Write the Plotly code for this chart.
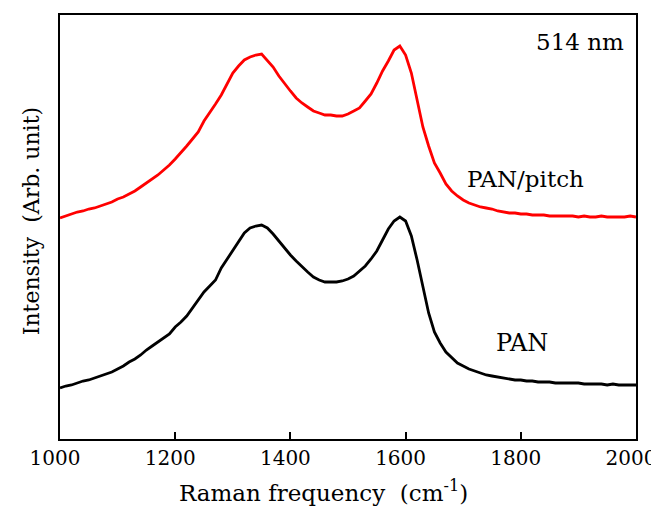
import plotly.graph_objects as go

# Raman spectra, 514 nm excitation (intensity in arbitrary units)
RAMAN_SHIFT = list(range(1000, 2001, 10))

PAN_PITCH = [
    221, 223, 225, 227, 228, 230, 231, 233, 235, 237,
    240, 242, 245, 248, 252, 256, 260, 264, 269, 274,
    280, 286, 293, 300, 307, 318, 326, 335, 344, 355,
    366, 373, 379, 382, 384, 385, 379, 372, 363, 355,
    348, 341, 336, 332, 328, 326, 324, 324, 323, 323,
    325, 328, 331, 338, 345, 356, 368, 378, 389, 393,
    384, 366, 339, 312, 293, 276, 266, 255, 248, 243,
    239, 236, 234, 232, 231, 230, 228, 227, 226, 226,
    225, 225, 224, 224, 224, 223, 223, 223, 223, 223,
    222, 223, 222, 222, 223, 222, 222, 222, 222, 223,
    222,
]

PAN = [
    51, 53, 54, 56, 58, 59, 61, 63, 65, 67,
    70, 73, 77, 80, 84, 89, 93, 97, 101, 105,
    112, 117, 123, 131, 140, 147, 153, 159, 171, 180,
    189, 198, 206, 211, 213, 214, 211, 205, 198, 190,
    184, 178, 172, 167, 162, 159, 157, 157, 157, 158,
    160, 163, 168, 173, 180, 188, 199, 210, 218, 222,
    218, 203, 179, 151, 126, 107, 96, 87, 81, 76,
    73, 70, 68, 66, 64, 63, 62, 61, 60, 59,
    59, 58, 58, 57, 57, 57, 56, 56, 56, 56,
    56, 55, 55, 55, 55, 54, 55, 54, 54, 54,
    54,
]

TICKS = [1000, 1200, 1400, 1600, 1800, 2000]

# only DejaVu Serif resolves to a serif face in the render sandbox
SERIF = "DejaVu Serif"
INK = "#000000"

fig = go.Figure()
fig.add_trace(
    go.Scatter(
        x=RAMAN_SHIFT, y=PAN_PITCH, mode="lines", name="PAN/pitch",
        line=dict(color="#FF0000", width=2.8),
    )
)
fig.add_trace(
    go.Scatter(
        x=RAMAN_SHIFT, y=PAN, mode="lines", name="PAN",
        line=dict(color=INK, width=2.8),
    )
)

labels = [
    ("514 nm", 1903, 397, 23),
    ("PAN/pitch", 1809, 260, 23),
    ("PAN", 1802, 96, 24),
]
for text, x, y, size in labels:
    fig.add_annotation(
        text=text, x=x, y=y, xref="x", yref="y", showarrow=False,
        font=dict(family=SERIF, size=size, color=INK),
    )

# axis titles as annotations: the originals sit a little off-centre
fig.add_annotation(
    text="Intensity  (Arb. unit)", xref="paper", yref="paper",
    x=-0.050, y=0.514, xanchor="center", yanchor="middle",
    textangle=-90, showarrow=False,
    font=dict(family=SERIF, size=22, color=INK),
)
fig.add_annotation(
    text="Raman frequency  (cm<sup>-1</sup>)", xref="paper", yref="paper",
    x=0.458, y=-0.122, xanchor="center", yanchor="middle",
    showarrow=False,
    font=dict(family=SERIF, size=23, color=INK),
)

# the page body has an 8px margin, so the figure is sized to end at the window edge
fig.update_layout(
    width=651, height=504,
    paper_bgcolor="white", plot_bgcolor="white",
    margin=dict(l=52, r=23, t=7, b=73),
    showlegend=False,
    font=dict(family=SERIF, size=20, color=INK),
    xaxis=dict(
        range=[1000, 2000], tickvals=TICKS,
        ticks="inside", ticklen=7, tickwidth=2, tickcolor=INK,
        ticklabelshift=-5,
        showline=True, linewidth=2, linecolor=INK, mirror=True,
        showgrid=False, zeroline=False, automargin=False,
        tickfont=dict(family=SERIF, size=20, color=INK),
    ),
    yaxis=dict(
        range=[0, 424], showticklabels=False, ticks="",
        showline=True, linewidth=2, linecolor=INK, mirror=True,
        showgrid=False, zeroline=False, automargin=False,
    ),
)

fig.write_html("out.html")
